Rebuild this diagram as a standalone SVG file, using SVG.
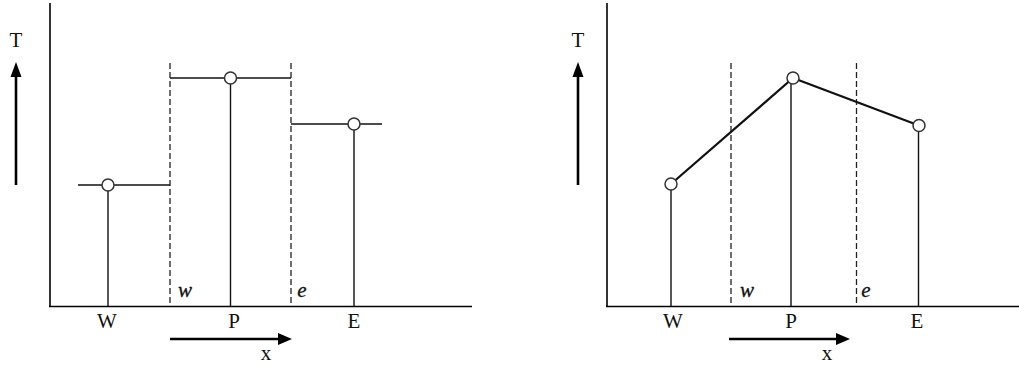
<svg xmlns="http://www.w3.org/2000/svg" width="1019" height="367" viewBox="0 0 1019 367">
<defs>
<style>
.ax{stroke:#000;stroke-width:1.6;fill:none}
.thin{stroke:#111;stroke-width:1.4;fill:none}
.dash{stroke:#222;stroke-width:1.3;stroke-dasharray:6,3;fill:none}
.thick{stroke:#111;stroke-width:2.2;fill:none}
.arr{stroke:#000;stroke-width:2.6;fill:none}
.pt{fill:#fff;stroke:#333;stroke-width:1.5}
.lb{font-family:"Liberation Serif","DejaVu Serif",serif;font-size:21px;fill:#111;text-anchor:middle}
.it{font-style:italic;font-size:21px;stroke:#111;stroke-width:0.3}
</style>
</defs>
<rect width="1019" height="367" fill="#fff"/>
<g id="left">
<g id="axes-left">
<line class="ax" x1="50" y1="3" x2="50" y2="306.5"/>
<line class="ax" x1="49" y1="306.5" x2="472" y2="306.5"/>
</g>
<g id="T-arrow-left">
<line class="arr" x1="16" y1="185" x2="16" y2="74"/>
<polygon points="16,62 10.5,77 21.5,77" fill="#000"/>
<text class="lb" x="16" y="47">T</text>
</g>
<g id="faces-left">
<line class="dash" x1="170" y1="63" x2="170" y2="306"/>
<line class="dash" x1="291" y1="63" x2="291" y2="306"/>
</g>
<g id="steps-left">
<line class="thin" x1="78" y1="185" x2="170" y2="185"/>
<line class="thin" x1="170" y1="78" x2="291" y2="78"/>
<line class="thin" x1="291" y1="124" x2="382" y2="124"/>
</g>
<g id="W-left">
<line class="thin" x1="108" y1="185" x2="108" y2="306"/>
<circle class="pt" cx="108" cy="185" r="6"/>
</g>
<g id="P-left">
<line class="thin" x1="230.5" y1="78" x2="230.5" y2="306"/>
<circle class="pt" cx="230.5" cy="78" r="6"/>
</g>
<g id="E-left">
<line class="thin" x1="354" y1="124" x2="354" y2="306"/>
<circle class="pt" cx="354" cy="124" r="6"/>
</g>
<g id="labels-left">
<text class="lb" x="107" y="328">W</text>
<text class="lb" x="234" y="328">P</text>
<text class="lb" x="354" y="328">E</text>
<text class="lb it" x="185" y="297">w</text>
<text class="lb it" x="302" y="297">e</text>
</g>
<g id="x-arrow-left">
<line class="arr" x1="170" y1="339" x2="280" y2="339"/>
<polygon points="292,339 278,333 278,345" fill="#000"/>
<text class="lb" x="266" y="360">x</text>
</g>
</g>
<g id="right">
<g id="axes-right">
<line class="ax" x1="607" y1="3" x2="607" y2="306.5"/>
<line class="ax" x1="606" y1="306.5" x2="1019" y2="306.5"/>
</g>
<g id="T-arrow-right">
<line class="arr" x1="578" y1="185" x2="578" y2="74"/>
<polygon points="578,62 572.5,77 583.5,77" fill="#000"/>
<text class="lb" x="578" y="47">T</text>
</g>
<g id="faces-right">
<line class="dash" x1="731" y1="63" x2="731" y2="306"/>
<line class="dash" x1="856.5" y1="63" x2="856.5" y2="306"/>
</g>
<g id="profile-right">
<polyline class="thick" points="671,184 793,78 919,125.5"/>
</g>
<g id="W-right">
<line class="thin" x1="671" y1="184" x2="671" y2="306"/>
<circle class="pt" cx="671" cy="184" r="6"/>
</g>
<g id="P-right">
<line class="thin" x1="791" y1="78" x2="791" y2="306"/>
<circle class="pt" cx="793" cy="78" r="6"/>
</g>
<g id="E-right">
<line class="thin" x1="918.5" y1="125.5" x2="918.5" y2="306"/>
<circle class="pt" cx="919" cy="125.5" r="6"/>
</g>
<g id="labels-right">
<text class="lb" x="673" y="328">W</text>
<text class="lb" x="791" y="328">P</text>
<text class="lb" x="917" y="328">E</text>
<text class="lb it" x="747" y="297">w</text>
<text class="lb it" x="866" y="297">e</text>
</g>
<g id="x-arrow-right">
<line class="arr" x1="729" y1="339" x2="838" y2="339"/>
<polygon points="850,339 836,333 836,345" fill="#000"/>
<text class="lb" x="827" y="360">x</text>
</g>
</g>
</svg>
